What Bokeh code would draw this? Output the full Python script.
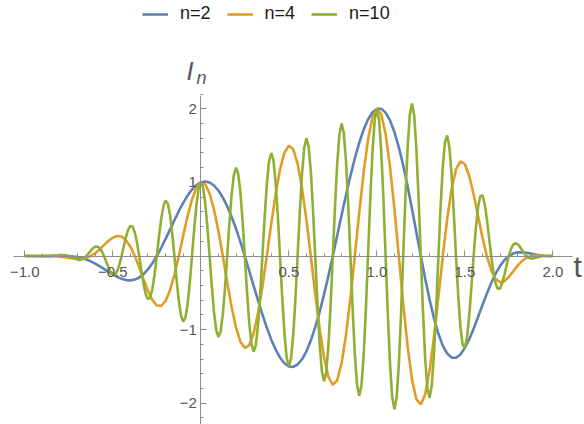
from bokeh.plotting import figure
from bokeh.models import FixedTicker, Label, Legend, LegendItem, Range1d
from bokeh.embed import file_html
from bokeh.resources import INLINE

# ---- data ----
series_labels = ["n=2", "n=4", "n=10"]

t_n2 = [-1.0, -0.975, -0.95, -0.925, -0.9, -0.875, -0.85, -0.825, -0.8, -0.775,
        -0.75, -0.725, -0.7, -0.675, -0.65, -0.625, -0.6, -0.575, -0.55, -0.525,
        -0.5, -0.475, -0.45, -0.425, -0.4, -0.375, -0.35, -0.325, -0.3, -0.275,
        -0.25, -0.225, -0.2, -0.175, -0.15, -0.125, -0.1, -0.075, -0.05, -0.025,
        0.0, 0.025, 0.05, 0.075, 0.1, 0.125, 0.15, 0.175, 0.2, 0.225,
        0.25, 0.275, 0.3, 0.325, 0.35, 0.375, 0.4, 0.425, 0.45, 0.475,
        0.5, 0.525, 0.55, 0.575, 0.6, 0.625, 0.65, 0.675, 0.7, 0.725,
        0.75, 0.775, 0.8, 0.825, 0.85, 0.875, 0.9, 0.925, 0.95, 0.975,
        1.0, 1.025, 1.05, 1.075, 1.1, 1.125, 1.15, 1.175, 1.2, 1.225,
        1.25, 1.275, 1.3, 1.325, 1.35, 1.375, 1.4, 1.425, 1.45, 1.475,
        1.5, 1.525, 1.55, 1.575, 1.6, 1.625, 1.65, 1.675, 1.7, 1.725,
        1.75, 1.775, 1.8, 1.825, 1.85, 1.875, 1.9, 1.925, 1.95, 1.975, 2.0]
y_n2 = [0, 0, 0, 0, 0.001, 0.001, 0.002, 0.003, 0.004, 0.003,
        0, -0.006, -0.015, -0.029, -0.048, -0.073, -0.103, -0.137, -0.174, -0.213,
        -0.25, -0.284, -0.31, -0.327, -0.331, -0.32, -0.292, -0.246, -0.181, -0.099,
        0, 0.112, 0.233, 0.359, 0.486, 0.609, 0.722, 0.821, 0.903, 0.963,
        1.0, 1.012, 0.999, 0.958, 0.89, 0.796, 0.676, 0.534, 0.371, 0.192,
        0, -0.199, -0.402, -0.602, -0.794, -0.972, -1.133, -1.27, -1.379, -1.457,
        -1.5, -1.506, -1.474, -1.403, -1.294, -1.149, -0.97, -0.761, -0.525, -0.27,
        0, 0.278, 0.556, 0.829, 1.087, 1.326, 1.537, 1.715, 1.855, 1.951,
        2.0, 2.0, 1.948, 1.842, 1.684, 1.479, 1.23, 0.947, 0.64, 0.321,
        0, -0.309, -0.595, -0.847, -1.057, -1.217, -1.325, -1.38, -1.382, -1.337,
        -1.25, -1.13, -0.987, -0.829, -0.668, -0.511, -0.366, -0.24, -0.136, -0.056,
        0, 0.034, 0.05, 0.052, 0.045, 0.033, 0.02, 0.01, 0.003, 0, 0]

t_n4 = [-1.0, -0.975, -0.95, -0.925, -0.9, -0.875, -0.85, -0.825, -0.8, -0.775,
        -0.75, -0.725, -0.7, -0.675, -0.65, -0.625, -0.6, -0.575, -0.55, -0.525,
        -0.5, -0.475, -0.45, -0.425, -0.4, -0.375, -0.35, -0.325, -0.3, -0.275,
        -0.25, -0.225, -0.2, -0.175, -0.15, -0.125, -0.1, -0.075, -0.05, -0.025,
        0.0, 0.025, 0.05, 0.075, 0.1, 0.125, 0.15, 0.175, 0.2, 0.225,
        0.25, 0.275, 0.3, 0.325, 0.35, 0.375, 0.4, 0.425, 0.45, 0.475,
        0.5, 0.525, 0.55, 0.575, 0.6, 0.625, 0.65, 0.675, 0.7, 0.725,
        0.75, 0.775, 0.8, 0.825, 0.85, 0.875, 0.9, 0.925, 0.95, 0.975,
        1.0, 1.025, 1.05, 1.075, 1.1, 1.125, 1.15, 1.175, 1.2, 1.225,
        1.25, 1.275, 1.3, 1.325, 1.35, 1.375, 1.4, 1.425, 1.45, 1.475,
        1.5, 1.525, 1.55, 1.575, 1.6, 1.625, 1.65, 1.675, 1.7, 1.725,
        1.75, 1.775, 1.8, 1.825, 1.85, 1.875, 1.9, 1.925, 1.95, 1.975, 2.0]
y_n4 = [0, 0, 0, 0, 0, 0, -0.001, -0.004, -0.009, -0.017,
        -0.026, -0.034, -0.04, -0.038, -0.025, 0, 0.039, 0.09, 0.148, 0.205,
        0.25, 0.273, 0.264, 0.216, 0.127, 0, -0.154, -0.318, -0.474, -0.599,
        -0.672, -0.679, -0.61, -0.465, -0.256, 0, 0.276, 0.542, 0.768, 0.927,
        1.0, 0.975, 0.85, 0.632, 0.34, 0, -0.355, -0.691, -0.971, -1.165,
        -1.25, -1.213, -1.052, -0.779, -0.417, 0, 0.433, 0.838, 1.173, 1.403,
        1.5, 1.45, 1.254, 0.926, 0.494, 0, -0.51, -0.985, -1.375, -1.641,
        -1.75, -1.688, -1.456, -1.073, -0.572, 0, 0.587, 1.132, 1.578, 1.878,
        2.0, 1.926, 1.657, 1.215, 0.643, 0, -0.647, -1.227, -1.677, -1.949,
        -2.017, -1.879, -1.557, -1.097, -0.555, 0, 0.506, 0.91, 1.176, 1.287,
        1.25, 1.088, 0.839, 0.547, 0.255, 0, -0.193, -0.311, -0.356, -0.341,
        -0.285, -0.208, -0.131, -0.067, -0.023, 0, 0.008, 0.007, 0.003, 0, 0]

t_n10 = [-1.0, -0.9875, -0.975, -0.9625, -0.95, -0.9375, -0.925, -0.9125,
         -0.9, -0.8875, -0.875, -0.8625, -0.85, -0.8375, -0.825, -0.8125,
         -0.8, -0.7875, -0.775, -0.7625, -0.75, -0.7375, -0.725, -0.7125,
         -0.7, -0.6875, -0.675, -0.6625, -0.65, -0.6375, -0.625, -0.6125,
         -0.6, -0.5875, -0.575, -0.5625, -0.55, -0.5375, -0.525, -0.5125,
         -0.5, -0.4875, -0.475, -0.4625, -0.45, -0.4375, -0.425, -0.4125,
         -0.4, -0.3875, -0.375, -0.3625, -0.35, -0.3375, -0.325, -0.3125,
         -0.3, -0.2875, -0.275, -0.2625, -0.25, -0.2375, -0.225, -0.2125,
         -0.2, -0.1875, -0.175, -0.1625, -0.15, -0.1375, -0.125, -0.1125,
         -0.1, -0.0875, -0.075, -0.0625, -0.05, -0.0375, -0.025, -0.0125,
         0.0, 0.0125, 0.025, 0.0375, 0.05, 0.0625, 0.075, 0.0875,
         0.1, 0.1125, 0.125, 0.1375, 0.15, 0.1625, 0.175, 0.1875,
         0.2, 0.2125, 0.225, 0.2375, 0.25, 0.2625, 0.275, 0.2875,
         0.3, 0.3125, 0.325, 0.3375, 0.35, 0.3625, 0.375, 0.3875,
         0.4, 0.4125, 0.425, 0.4375, 0.45, 0.4625, 0.475, 0.4875,
         0.5, 0.5125, 0.525, 0.5375, 0.55, 0.5625, 0.575, 0.5875,
         0.6, 0.6125, 0.625, 0.6375, 0.65, 0.6625, 0.675, 0.6875,
         0.7, 0.7125, 0.725, 0.7375, 0.75, 0.7625, 0.775, 0.7875,
         0.8, 0.8125, 0.825, 0.8375, 0.85, 0.8625, 0.875, 0.8875,
         0.9, 0.9125, 0.925, 0.9375, 0.95, 0.9625, 0.975, 0.9875,
         1.0, 1.0125, 1.025, 1.0375, 1.05, 1.0625, 1.075, 1.0875,
         1.1, 1.1125, 1.125, 1.1375, 1.15, 1.1625, 1.175, 1.1875,
         1.2, 1.2125, 1.225, 1.2375, 1.25, 1.2625, 1.275, 1.2875,
         1.3, 1.3125, 1.325, 1.3375, 1.35, 1.3625, 1.375, 1.3875,
         1.4, 1.4125, 1.425, 1.4375, 1.45, 1.4625, 1.475, 1.4875,
         1.5, 1.5125, 1.525, 1.5375, 1.55, 1.5625, 1.575, 1.5875,
         1.6, 1.6125, 1.625, 1.6375, 1.65, 1.6625, 1.675, 1.6875,
         1.7, 1.7125, 1.725, 1.7375, 1.75, 1.7625, 1.775, 1.7875,
         1.8, 1.8125, 1.825, 1.8375, 1.85, 1.8625, 1.875, 1.8875,
         1.9, 1.9125, 1.925, 1.9375, 1.95, 1.9625, 1.975, 1.9875,
         2.0]
y_n10 = [0, 0, 0, 0, 0, 0, 0, 0,
         -0.001, -0.001, -0.001, -0.001, 0, 0.002, 0.005, 0.008,
         0.012, 0.013, 0.013, 0.008, 0, -0.012, -0.026, -0.039,
         -0.049, -0.052, -0.045, -0.028, 0, 0.035, 0.073, 0.106,
         0.127, 0.129, 0.109, 0.064, 0, -0.076, -0.152, -0.215,
         -0.25, -0.248, -0.203, -0.117, 0, 0.133, 0.26, 0.359,
         0.41, 0.398, 0.32, 0.182, 0, -0.199, -0.383, -0.521,
         -0.586, -0.562, -0.445, -0.249, 0, 0.265, 0.505, 0.678,
         0.754, 0.714, 0.56, 0.31, 0, -0.323, -0.609, -0.81,
         -0.892, -0.838, -0.652, -0.358, 0, 0.368, 0.689, 0.912,
         1.0, 0.935, 0.725, 0.397, 0, -0.407, -0.76, -1.005,
         -1.1, -1.028, -0.796, -0.435, 0, 0.445, 0.831, 1.097,
         1.2, 1.12, 0.866, 0.474, 0, -0.483, -0.902, -1.19,
         -1.3, -1.213, -0.937, -0.512, 0, 0.521, 0.972, 1.282,
         1.4, 1.305, 1.008, 0.55, 0, -0.56, -1.043, -1.374,
         -1.5, -1.397, -1.078, -0.588, 0, 0.598, 1.114, 1.467,
         1.6, 1.49, 1.149, 0.627, 0, -0.636, -1.184, -1.559,
         -1.7, -1.582, -1.22, -0.665, 0, 0.675, 1.255, 1.651,
         1.8, 1.675, 1.291, 0.703, 0, -0.713, -1.326, -1.744,
         -1.9, -1.767, -1.361, -0.742, 0, 0.751, 1.397, 1.836,
         2.0, 1.859, 1.432, 0.779, 0, -0.788, -1.462, -1.917,
         -2.082, -1.928, -1.479, -0.801, 0, 0.8, 1.476, 1.923,
         2.073, 1.905, 1.449, 0.779, 0, -0.764, -1.397, -1.803,
         -1.925, -1.752, -1.319, -0.701, 0, 0.674, 1.217, 1.553,
         1.638, 1.473, 1.095, 0.575, 0, -0.537, -0.957, -1.203,
         -1.25, -1.106, -0.809, -0.418, 0, 0.377, 0.658, 0.811,
         0.825, 0.715, 0.511, 0.257, 0, -0.22, -0.374, -0.447,
         -0.44, -0.368, -0.254, -0.123, 0, 0.096, 0.155, 0.175,
         0.162, 0.127, 0.081, 0.036, 0, -0.023, -0.033, -0.032,
         -0.025, -0.016, -0.008, -0.003, 0, 0.001, 0, 0,
         0]

x_major_ticks = [-1.0, -0.5, 0.5, 1.0, 1.5, 2.0]
x_major_labels = ["\u22121.0", "\u22120.5", "0.5", "1.0", "1.5", "2.0"]
x_minor_ticks = [-0.9, -0.8, -0.7, -0.6, -0.4, -0.3, -0.2, -0.1, 0.1, 0.2, 0.3, 0.4,
                 0.6, 0.7, 0.8, 0.9, 1.1, 1.2, 1.3, 1.4, 1.6, 1.7, 1.8, 1.9]
y_major_ticks = [-2, -1, 1, 2]
y_major_labels = ["\u22122", "\u22121", "1", "2"]
y_minor_ticks = [-2.2, -1.8, -1.6, -1.4, -1.2, -0.8, -0.6, -0.4, -0.2,
                 0.2, 0.4, 0.6, 0.8, 1.2, 1.4, 1.6, 1.8, 2.2]

colors = ["#5e81b5", "#e19c24", "#8fb032"]
FONT = "Liberation Sans"
AXIS_COL = "#8c8c8c"
LABEL_COL = "#555555"

p = figure(width=584, height=424, output_backend="svg", toolbar_location=None,
           x_range=Range1d(-1.138, 2.180), y_range=Range1d(-2.289, 3.4715),
           min_border_left=0, min_border_right=0, min_border_top=0, min_border_bottom=0)
p.outline_line_color = None
p.grid.visible = False
p.background_fill_color = "white"

r1 = p.line(t_n2, y_n2, line_color=colors[0], line_width=2.6)
r2 = p.line(t_n4, y_n4, line_color=colors[1], line_width=2.6)
r3 = p.line(t_n10, y_n10, line_color=colors[2], line_width=2.6)

for ax in (p.xaxis[0], p.yaxis[0]):
    ax.fixed_location = 0
    ax.axis_line_color = AXIS_COL
    ax.major_tick_line_color = AXIS_COL
    ax.minor_tick_line_color = AXIS_COL
    ax.major_tick_out = 0
    ax.minor_tick_out = 0
    ax.major_tick_in = 6
    ax.minor_tick_in = 3
    ax.major_label_text_font = FONT
    ax.major_label_text_font_size = "15px"
    ax.major_label_text_color = LABEL_COL

p.xaxis[0].bounds = (-1.064, 2.112)
p.xaxis[0].ticker = FixedTicker(ticks=x_major_ticks, minor_ticks=x_minor_ticks)
p.xaxis[0].major_label_overrides = dict(zip(x_major_ticks, x_major_labels))
p.xaxis[0].major_label_standoff = 11
p.yaxis[0].bounds = (-2.289, 2.18)
p.yaxis[0].ticker = FixedTicker(ticks=y_major_ticks, minor_ticks=y_minor_ticks)
p.yaxis[0].major_label_overrides = dict(zip(y_major_ticks, y_major_labels))
p.yaxis[0].major_label_standoff = 4

p.add_layout(Label(x=-0.081, y=2.507, text="I", text_font=FONT, text_font_style="italic",
                   text_font_size="25px", text_color=LABEL_COL, text_baseline="alphabetic"))
p.add_layout(Label(x=-0.024, y=2.425, text="n", text_font=FONT, text_font_style="italic",
                   text_font_size="18px", text_color=LABEL_COL, text_baseline="alphabetic"))
p.add_layout(Label(x=2.118, y=-0.149, text="t", text_font=FONT,
                   text_font_size="30px", text_color=LABEL_COL, text_baseline="alphabetic"))

legend = Legend(items=[LegendItem(label=series_labels[0], renderers=[r1]),
                       LegendItem(label=series_labels[1], renderers=[r2]),
                       LegendItem(label=series_labels[2], renderers=[r3])],
                orientation="horizontal", location=(142, 400),
                padding=0, margin=0, spacing=16, glyph_width=26, glyph_height=16,
                label_height=16, label_standoff=12, label_text_font=FONT,
                label_text_font_size="18px", label_text_color="#1a1a1a",
                border_line_color=None, background_fill_alpha=0)
p.add_layout(legend)

open("out.html", "w").write(file_html(p, INLINE))
